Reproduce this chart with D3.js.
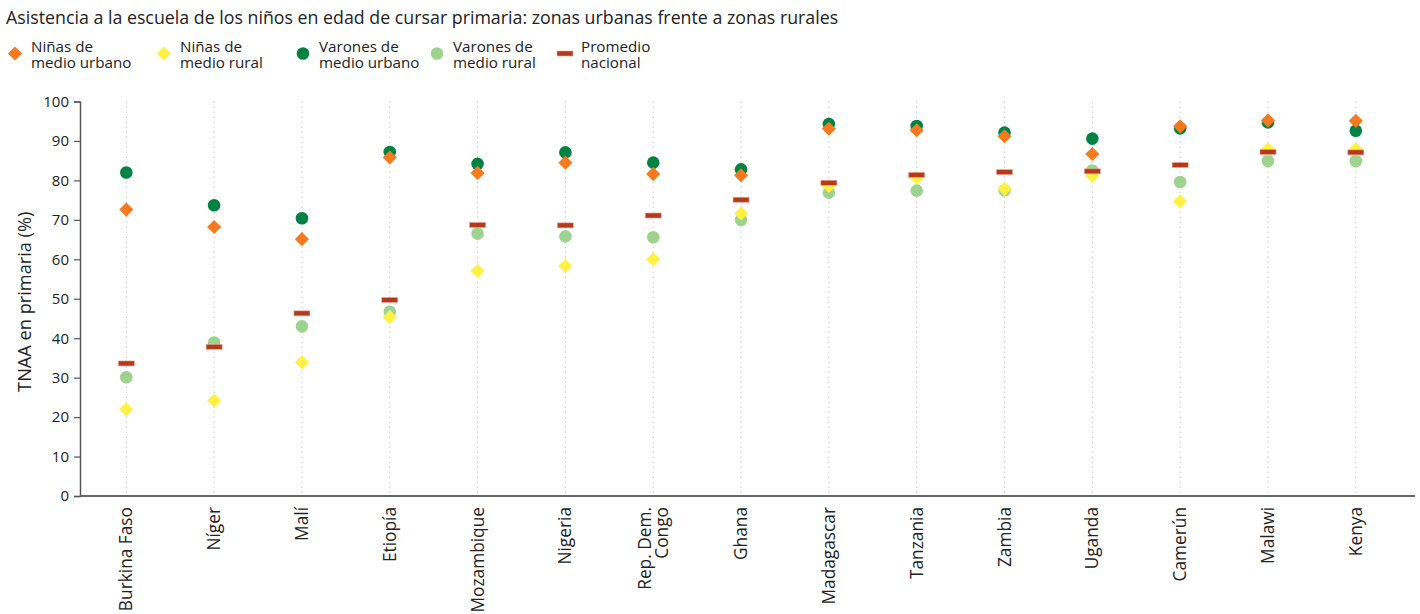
<!DOCTYPE html>
<html><head><meta charset="utf-8">
<script src="https://cdn.jsdelivr.net/npm/d3@7"></script>
<style>
body{margin:0;background:#fff;}
svg{display:block;}
</style></head>
<body>
<svg id="chart" width="1420" height="614"></svg>
<script>
const countries = ["Burkina Faso","Níger","Malí","Etiopía","Mozambique","Nigeria","Rep. Dem.|Congo","Ghana","Madagascar","Tanzania","Zambia","Uganda","Camerún","Malawi","Kenya"];
const girlsUrban = [72.6,68.2,65.1,85.8,81.9,84.5,81.6,81.3,93.1,92.7,91.2,86.7,93.7,95.2,95.1];
const girlsRural = [22.0,24.2,33.9,45.4,57.1,58.3,60.0,71.6,78.6,80.7,77.8,81.2,74.7,87.9,87.9];
const boysUrban = [82.0,73.7,70.4,87.2,84.2,87.1,84.5,82.8,94.3,93.8,92.1,90.6,93.2,94.7,92.6];
const boysRural = [30.1,38.9,43.0,46.7,66.5,65.8,65.6,70.0,76.9,77.4,77.5,82.5,79.6,84.9,84.9];
const national = [33.6,37.8,46.3,49.7,68.7,68.6,71.1,75.1,79.4,81.4,82.1,82.3,83.9,87.2,87.1];
const yTicks = [0,10,20,30,40,50,60,70,80,90,100];
const legendLabels = [["Niñas de","medio urbano"],["Niñas de","medio rural"],["Varones de","medio urbano"],["Varones de","medio rural"],["Promedio","nacional"]];

const C = {girlsUrban:"#f47a20", girlsRural:"#fff143", boysUrban:"#008244", boysRural:"#9dd28f", national:"#b5391b"};
const FONT = "'Open Sans', sans-serif";

const svg = d3.select("#chart").style("font-family",FONT);
const x = d3.scalePoint().domain(countries).range([126.3, 1355.8]);
const y = d3.scaleLinear().domain([0,100]).range([496, 101.5]);

// title
svg.append("text").attr("x",6).attr("y",23.5).style("font-size","17.8px").style("fill","#222")
  .text("Asistencia a la escuela de los niños en edad de cursar primaria: zonas urbanas frente a zonas rurales");

// gridlines
svg.append("g").selectAll("line").data(countries).join("line")
  .attr("x1",d=>x(d)).attr("x2",d=>x(d)).attr("y1",y(100)).attr("y2",y(0))
  .attr("stroke","#c8c8c8").attr("stroke-width",1).attr("stroke-dasharray","1.5,3.5");

// y axis
const ya = svg.append("g").attr("transform","translate(80,0)")
  .call(d3.axisLeft(y).tickValues(yTicks).tickSize(6).tickPadding(5));
ya.select(".domain").attr("stroke","#555").attr("stroke-width",1.5);
ya.selectAll(".tick line").attr("stroke","#555").attr("stroke-width",1.2);
ya.selectAll(".tick text").style("font-size","15px").style("font-family",FONT).style("fill","#222");

// x axis line
svg.append("line").attr("x1",80).attr("x2",1415).attr("y1",y(0)).attr("y2",y(0)).attr("stroke","#666").attr("stroke-width",2);

// x labels
const xl = svg.append("g").selectAll("g").data(countries).join("g")
  .attr("transform",d=>`translate(${x(d)},${y(0)+11}) rotate(-90)`);
xl.each(function(d){
  const lines = d.split("|");
  const g = d3.select(this);
  const t = g.append("text").attr("text-anchor","end").style("font-size","17.3px").style("fill","#222");
  const n = lines.length;
  lines.forEach((l,i)=>{
    t.append("tspan").attr("x",0).attr("y", (i-(n-1)/2)*17 + 6).text(l);
  });
});

// y label
svg.append("text").attr("transform",`translate(31,${(y(0)+y(100))/2 + 3}) rotate(-90)`)
  .attr("text-anchor","middle").style("font-size","18.2px").style("fill","#222").text("TNAA en primaria (%)");

const diamond = d3.symbol().type(d3.symbolSquare).size(100);
function drawCircles(vals,color){
  svg.append("g").selectAll("circle").data(vals).join("circle")
    .attr("cx",(d,i)=>x(countries[i])).attr("cy",d=>y(d)).attr("r",6.3).attr("fill",color);
}
function drawDiamonds(vals,color){
  svg.append("g").selectAll("path").data(vals).join("path")
    .attr("d",diamond).attr("transform",(d,i)=>`translate(${x(countries[i])},${y(d)}) rotate(45)`).attr("fill",color);
}
drawCircles(boysUrban,C.boysUrban);
drawCircles(boysRural,C.boysRural);
drawDiamonds(girlsUrban,C.girlsUrban);
drawDiamonds(girlsRural,C.girlsRural);
svg.append("g").selectAll("rect").data(national).join("rect")
  .attr("x",(d,i)=>x(countries[i])-8).attr("y",d=>y(d)-2.5).attr("width",16).attr("height",5)
  .attr("fill",C.national).attr("stroke","#e9a594").attr("stroke-width",0.6);

// legend
const legX = [15,164,303,437,565];
const legTypes = ["d","d","c","c","r"];
const legCols = [C.girlsUrban,C.girlsRural,C.boysUrban,C.boysRural,C.national];
const lg = svg.append("g").selectAll("g").data(legendLabels).join("g")
  .attr("transform",(d,i)=>`translate(${legX[i]},53.5)`);
lg.each(function(d,i){
  const g = d3.select(this);
  if(legTypes[i]==="d") g.append("path").attr("d",diamond).attr("transform","rotate(45)").attr("fill",legCols[i]);
  else if(legTypes[i]==="c") g.append("circle").attr("r",6.3).attr("fill",legCols[i]);
  else g.append("rect").attr("x",-8).attr("y",-2.5).attr("width",16).attr("height",5).attr("fill",legCols[i]).attr("stroke","#e9a594").attr("stroke-width",0.6);
  const t = g.append("text").style("font-size","15.2px").style("fill","#222");
  d.forEach((l,k)=>t.append("tspan").attr("x",16).attr("y",-1.5+k*15.5).text(l));
});
</script>
</body></html>
